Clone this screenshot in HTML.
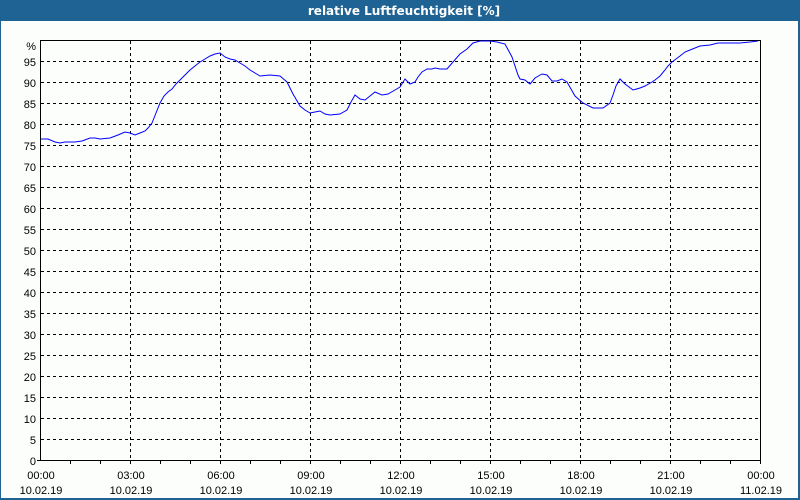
<!DOCTYPE html>
<html><head><meta charset="utf-8"><style>
body{margin:0;background:#fff}
svg{display:block}
text{font-family:"Liberation Sans",sans-serif;font-size:11px;fill:#000}
</style></head><body>
<svg width="800" height="500" xmlns="http://www.w3.org/2000/svg">
<rect x="0" y="0" width="800" height="500" fill="#1e6394"/>
<rect x="1" y="21" width="797" height="477" fill="#fcfefc"/>
<text x="404" y="15" text-anchor="middle" style="fill:#fff;font-weight:bold;font-size:12px;font-family:'DejaVu Sans',sans-serif">relative Luftfeuchtigkeit [%]</text>
<g stroke="#000" stroke-width="1" stroke-dasharray="3,3" shape-rendering="crispEdges">
<line x1="41" x2="760" y1="61.5" y2="61.5"/><line x1="41" x2="760" y1="82.5" y2="82.5"/><line x1="41" x2="760" y1="103.5" y2="103.5"/><line x1="41" x2="760" y1="124.5" y2="124.5"/><line x1="41" x2="760" y1="145.5" y2="145.5"/><line x1="41" x2="760" y1="166.5" y2="166.5"/><line x1="41" x2="760" y1="187.5" y2="187.5"/><line x1="41" x2="760" y1="208.5" y2="208.5"/><line x1="41" x2="760" y1="229.5" y2="229.5"/><line x1="41" x2="760" y1="250.5" y2="250.5"/><line x1="41" x2="760" y1="271.5" y2="271.5"/><line x1="41" x2="760" y1="292.5" y2="292.5"/><line x1="41" x2="760" y1="313.5" y2="313.5"/><line x1="41" x2="760" y1="334.5" y2="334.5"/><line x1="41" x2="760" y1="355.5" y2="355.5"/><line x1="41" x2="760" y1="376.5" y2="376.5"/><line x1="41" x2="760" y1="397.5" y2="397.5"/><line x1="41" x2="760" y1="418.5" y2="418.5"/><line x1="41" x2="760" y1="439.5" y2="439.5"/>
<line x1="130.5" x2="130.5" y1="41" y2="460"/><line x1="220.5" x2="220.5" y1="41" y2="460"/><line x1="310.5" x2="310.5" y1="41" y2="460"/><line x1="400.5" x2="400.5" y1="41" y2="460"/><line x1="490.5" x2="490.5" y1="41" y2="460"/><line x1="580.5" x2="580.5" y1="41" y2="460"/><line x1="670.5" x2="670.5" y1="41" y2="460"/>
</g>
<rect x="40.5" y="40.5" width="720" height="420" fill="none" stroke="#000" shape-rendering="crispEdges"/>
<g stroke="#000" shape-rendering="crispEdges">
<line x1="70.5" x2="70.5" y1="461" y2="464"/><line x1="100.5" x2="100.5" y1="461" y2="464"/><line x1="130.5" x2="130.5" y1="461" y2="464"/><line x1="160.5" x2="160.5" y1="461" y2="464"/><line x1="190.5" x2="190.5" y1="461" y2="464"/><line x1="220.5" x2="220.5" y1="461" y2="464"/><line x1="250.5" x2="250.5" y1="461" y2="464"/><line x1="280.5" x2="280.5" y1="461" y2="464"/><line x1="310.5" x2="310.5" y1="461" y2="464"/><line x1="340.5" x2="340.5" y1="461" y2="464"/><line x1="370.5" x2="370.5" y1="461" y2="464"/><line x1="400.5" x2="400.5" y1="461" y2="464"/><line x1="430.5" x2="430.5" y1="461" y2="464"/><line x1="460.5" x2="460.5" y1="461" y2="464"/><line x1="490.5" x2="490.5" y1="461" y2="464"/><line x1="520.5" x2="520.5" y1="461" y2="464"/><line x1="550.5" x2="550.5" y1="461" y2="464"/><line x1="580.5" x2="580.5" y1="461" y2="464"/><line x1="610.5" x2="610.5" y1="461" y2="464"/><line x1="640.5" x2="640.5" y1="461" y2="464"/><line x1="670.5" x2="670.5" y1="461" y2="464"/><line x1="700.5" x2="700.5" y1="461" y2="464"/><line x1="730.5" x2="730.5" y1="461" y2="464"/><line x1="760.5" x2="760.5" y1="461" y2="464"/>
<line x1="37" x2="41" y1="460.5" y2="460.5"/>
</g>
<g text-anchor="end">
<text x="36" y="50">%</text><text x="36" y="66">95</text><text x="36" y="87">90</text><text x="36" y="108">85</text><text x="36" y="129">80</text><text x="36" y="150">75</text><text x="36" y="171">70</text><text x="36" y="192">65</text><text x="36" y="213">60</text><text x="36" y="234">55</text><text x="36" y="255">50</text><text x="36" y="276">45</text><text x="36" y="297">40</text><text x="36" y="318">35</text><text x="36" y="339">30</text><text x="36" y="360">25</text><text x="36" y="381">20</text><text x="36" y="402">15</text><text x="36" y="423">10</text><text x="36" y="444">5</text><text x="36" y="465">0</text>
</g>
<g text-anchor="middle">
<text x="41" y="479">00:00</text><text x="41" y="494">10.02.19</text>
<text x="131" y="479">03:00</text><text x="131" y="494">10.02.19</text>
<text x="221" y="479">06:00</text><text x="221" y="494">10.02.19</text>
<text x="311" y="479">09:00</text><text x="311" y="494">10.02.19</text>
<text x="401" y="479">12:00</text><text x="401" y="494">10.02.19</text>
<text x="491" y="479">15:00</text><text x="491" y="494">10.02.19</text>
<text x="581" y="479">18:00</text><text x="581" y="494">10.02.19</text>
<text x="671" y="479">21:00</text><text x="671" y="494">10.02.19</text>
<text x="761" y="479">00:00</text><text x="761" y="494">11.02.19</text>
</g>
<polyline fill="none" stroke="#0000ff" stroke-width="1" points="41,139 48,139 55,142 60,143 65,142 75,142 82,141 90,138 95,138 100,139 110,138 118,135 125,132 130,133 135,135 140,133 145,131 148,128 152,123 156,113 160,103 164,96 168,92 172,89 176,84 180,80 185,75 190,70 195,66 200,62 205,59 210,56 215,54 220,53 225,57 230,59 235,60 240,63 245,66 250,70 255,73 260,76 270,75 280,76 287,82 293,94 300,106 305,110 310,113 315,112 320,111 325,114 330,115 340,114 347,110 351,102 355,95 360,99 365,100 370,96 375,92 382,95 388,94 395,90 400,87 405,79 410,84 415,82 418,77 422,72 427,69 432,69 435,68 440,69 447,69 453,62 460,54 467,49 473,43 480,41 490,41 497,42 505,44 512,57 518,75 520,79 525,80 530,84 535,78 542,74 547,75 552,81 557,81 562,79 567,82 571,89 575,96 583,103 593,108 603,108 610,103 613,95 616,86 620,79 625,84 633,90 640,88 645,86 652,82 655,80 660,76 665,70 668,66 672,62 676,59 680,56 685,52 690,50 695,48 700,46 710,45 718,43 740,43 750,42 758,41"/>
</svg>
</body></html>
